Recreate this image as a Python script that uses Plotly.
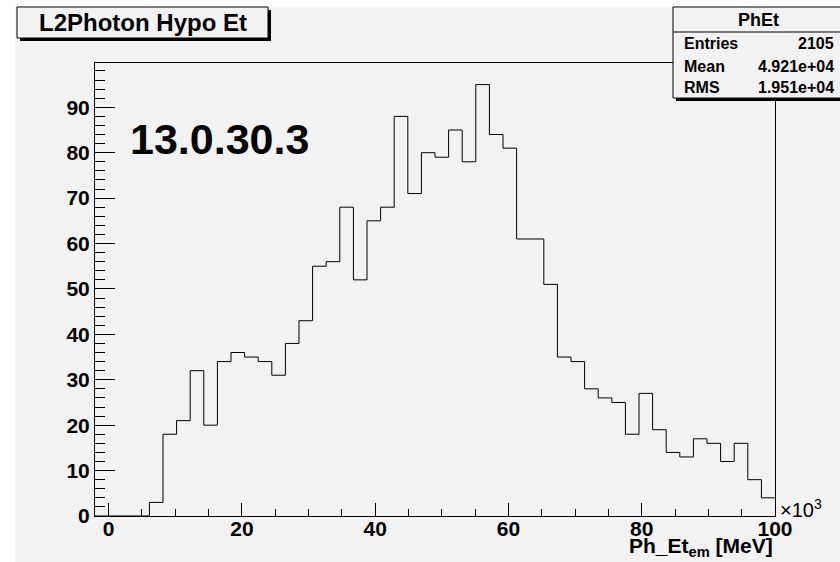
import numpy as np
import plotly.graph_objects as go

# ---- data ----
x_low = -2.0408
x_high = 100.0
n_bins = 50
counts = [0, 0, 0, 0, 3, 18, 21, 32, 20, 34, 36, 35, 34, 31, 38, 43, 55, 56, 68, 52,
          65, 68, 88, 71, 80, 79, 85, 78, 95, 84, 81, 61, 61, 51, 35, 34, 28, 26, 25, 18,
          27, 19, 14, 13, 17, 16, 12, 16, 8, 4]
x_ticks = [0, 20, 40, 60, 80, 100]
y_ticks = [0, 10, 20, 30, 40, 50, 60, 70, 80, 90]
title_text = "L2Photon Hypo Et"
stats_name = "PhEt"
stats_rows = [("Entries", "2105"), ("Mean", "4.921e+04"), ("RMS", "1.951e+04")]
version_text = "13.0.30.3"
x_title = "Ph_Et<sub>em</sub> [MeV]"

edges = np.linspace(x_low, x_high, n_bins + 1)
ys = counts + [counts[-1]]

W, H = 840, 562
ML, MR, MT, MB = 95, 65, 63, 46
PW, PH = W - ML - MR, H - MT - MB

def px(x):
    return (x - ML) / PW

def py(y):
    return (H - MB - y) / PH

FONT = "Liberation Sans, Arial, Helvetica, sans-serif"
BG = "#f2f2f2"

fig = go.Figure()
fig.add_trace(go.Scatter(x=edges, y=ys, mode="lines", line=dict(shape="hv", color="black", width=1),
                         hoverinfo="skip", showlegend=False))

shapes = [
    dict(type="rect", xref="paper", yref="paper", x0=px(15), x1=px(845), y0=py(7), y1=py(570),
         fillcolor=BG, line=dict(width=0), layer="below"),
    dict(type="rect", xref="paper", yref="paper", x0=px(20), x1=px(271), y0=py(10), y1=py(41),
         fillcolor="black", line=dict(width=0), layer="above"),
    dict(type="rect", xref="paper", yref="paper", x0=px(17), x1=px(268), y0=py(7), y1=py(38),
         fillcolor=BG, line=dict(color="black", width=1), layer="above"),
    dict(type="rect", xref="paper", yref="paper", x0=px(676), x1=px(850), y0=py(10), y1=py(101),
         fillcolor="black", line=dict(width=0), layer="above"),
    dict(type="rect", xref="paper", yref="paper", x0=px(673), x1=px(850), y0=py(7), y1=py(98),
         fillcolor=BG, line=dict(color="black", width=1), layer="above"),
    dict(type="line", xref="paper", yref="paper", x0=px(673), x1=px(850), y0=py(32), y1=py(32),
         line=dict(color="black", width=1), layer="above"),
]

annotations = [
    dict(text="<b>%s</b>" % title_text, x=px(142.5), y=py(22.5), xref="paper", yref="paper",
         xanchor="center", yanchor="middle", showarrow=False, font=dict(family=FONT, size=24, color="black")),
    dict(text="<b>%s</b>" % stats_name, x=px(758), y=py(20), xref="paper", yref="paper",
         xanchor="center", yanchor="middle", showarrow=False, font=dict(family=FONT, size=18, color="black")),
    dict(text="<b>%s</b>" % version_text, x=px(219), y=py(139), xref="paper", yref="paper",
         xanchor="center", yanchor="middle", showarrow=False, font=dict(family=FONT, size=43, color="black")),
    dict(text="<b>%s</b>" % x_title, x=px(775), y=py(547), xref="paper", yref="paper",
         xanchor="right", yanchor="middle", showarrow=False, font=dict(family=FONT, size=21, color="black")),
    dict(text="×10<sup>3</sup>", x=px(778), y=py(508), xref="paper", yref="paper",
         xanchor="left", yanchor="middle", showarrow=False, font=dict(family=FONT, size=20, color="black")),
]
row_y = [43, 66, 88]
for (lab, val), yy in zip(stats_rows, row_y):
    annotations.append(dict(text="<b>%s</b>" % lab, x=px(682), y=py(yy), xref="paper", yref="paper",
                            xanchor="left", yanchor="middle", showarrow=False,
                            font=dict(family=FONT, size=16, color="black")))
    annotations.append(dict(text="<b>%s</b>" % val, x=px(836), y=py(yy), xref="paper", yref="paper",
                            xanchor="right", yanchor="middle", showarrow=False,
                            font=dict(family=FONT, size=16, color="black")))

fig.update_layout(
    width=W, height=H,
    margin=dict(l=ML, r=MR, t=MT, b=MB),
    paper_bgcolor="white", plot_bgcolor=BG,
    shapes=shapes, annotations=annotations,
    font=dict(family=FONT, color="black"),
    xaxis=dict(range=[x_low, x_high], tickvals=x_ticks, ticktext=["<b>%d</b>" % v for v in x_ticks],
               ticks="inside", ticklen=13, tickcolor="black", tickwidth=1, ticklabelstandoff=-6,
               minor=dict(dtick=5, tick0=0, ticks="inside", ticklen=7, tickcolor="black"),
               showline=True, linecolor="black", linewidth=1, mirror=True,
               showgrid=False, zeroline=False, tickfont=dict(family=FONT, size=21, color="black")),
    yaxis=dict(range=[0, 99.75], tickvals=y_ticks, ticktext=["<b>%d</b>" % v for v in y_ticks],
               ticks="inside", ticklen=20, tickcolor="black", tickwidth=1,
               minor=dict(dtick=2, tick0=0, ticks="inside", ticklen=10, tickcolor="black"),
               showline=True, linecolor="black", linewidth=1, mirror=True,
               showgrid=False, zeroline=False, tickfont=dict(family=FONT, size=21, color="black")),
)

fig.write_html("out.html")
